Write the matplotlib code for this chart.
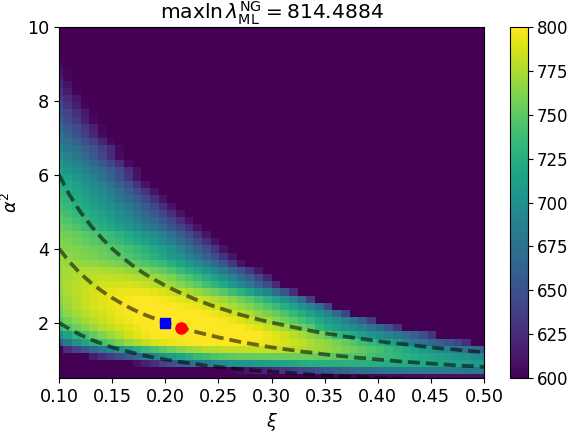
"""Likelihood map over xi and alpha^2 with the degeneracy curves on top."""
import numpy as np
import matplotlib
matplotlib.use('Agg')
import matplotlib.pyplot as plt

xi = np.linspace(0.1, 0.5, 50)
alpha2 = np.linspace(0.5, 10, 50)

# lnL, first row is the lowest alpha^2, rows stop at their last lit cell
rows = [
    [600]*30 + [601, 601, 602, 602, 602, 603, 603, 604, 604, 605, 605, 606, 606, 607, 607, 608, 608, 609, 609, 610],
    [600]*20 + [603, 607, 612, 616, 620, 625, 630, 635, 640, 645, 650, 655, 660, 664, 668, 672, 675, 678, 680, 682, 683, 684, 684, 684, 684, 683, 682, 681, 680, 678],
    [600]*9 + [608, 618, 628, 640, 650, 660, 668, 676, 684, 690, 695, 700, 703, 706, 709, 712, 715, 718, 720, 722, 724, 725, 726, 727, 727, 727, 727, 726, 725, 724, 723, 722, 721, 720, 719, 717, 715, 714, 712, 710, 708],
    [600]*4 + [615, 625, 635, 645, 655, 665, 680, 690, 700, 710, 718, 725, 733, 738, 743, 747, 750, 752, 753, 754, 754, 755, 755, 755, 755, 754, 753, 752, 750, 748, 746, 744, 741, 738, 735, 732, 728, 724, 720, 716, 712, 708, 704, 700, 696, 692],
    [600, 625, 640, 652, 665, 680, 692, 703, 714, 726, 735, 742, 750, 757, 763, 768, 772, 776, 778, 780, 781, 782, 782, 782, 782, 781, 780, 778, 776, 773, 770, 767, 763, 759, 755, 750, 745, 740, 734, 728, 722, 716, 710, 703, 696, 689, 682, 675, 668, 660],
    [655, 680, 700, 715, 728, 740, 750, 760, 768, 775, 781, 786, 790, 793, 796, 798, 800, 800, 801, 801, 800, 799, 798, 796, 794, 791, 788, 784, 780, 775, 770, 765, 759, 753, 746, 739, 732, 725, 717, 709, 690, 682, 675, 667, 658, 650, 640, 625],
    [695, 715, 730, 742, 752, 762, 770, 778, 785, 790, 795, 799, 802, 804, 806, 807, 808, 808, 808, 807, 806, 804, 802, 799, 795, 790, 785, 779, 773, 766, 758, 750, 735, 728, 720, 712, 704, 696, 688, 680, 670, 660, 648, 630],
    [730, 745, 755, 763, 770, 776, 782, 787, 791, 795, 798, 801, 803, 805, 806, 807, 807, 807, 806, 804, 802, 799, 795, 790, 784, 778, 771, 764, 756, 748, 730, 720, 712, 704, 695, 686, 676, 665, 650, 630],
    [745, 757, 765, 772, 778, 783, 788, 792, 796, 799, 802, 804, 805, 806, 806, 806, 805, 803, 801, 798, 794, 790, 785, 779, 772, 765, 757, 749, 740, 731, 720, 710, 700, 688, 675, 658, 635],
    [755, 765, 772, 778, 783, 787, 791, 795, 798, 800, 802, 803, 804, 804, 803, 802, 800, 797, 794, 790, 785, 780, 774, 767, 760, 752, 743, 734, 724, 713, 701, 688, 670, 640],
    [760, 769, 776, 781, 786, 790, 793, 796, 799, 800, 801, 801, 801, 800, 798, 796, 793, 789, 785, 780, 774, 768, 761, 754, 745, 736, 726, 715, 703, 690, 670, 640],
    [765, 772, 778, 783, 787, 790, 793, 796, 798, 799, 799, 799, 797, 795, 792, 789, 785, 781, 776, 770, 764, 756, 748, 738, 728, 716, 703, 688, 668, 635],
    [768, 774, 779, 783, 787, 790, 792, 793, 794, 794, 793, 791, 788, 784, 780, 775, 769, 762, 755, 747, 738, 728, 716, 703, 688, 672, 652, 625],
    [770, 775, 779, 782, 784, 786, 787, 787, 786, 785, 783, 779, 775, 770, 764, 757, 749, 740, 730, 719, 707, 694, 680, 664, 645, 622],
    [770, 774, 777, 779, 780, 781, 781, 780, 779, 777, 774, 770, 765, 759, 752, 744, 735, 725, 714, 702, 689, 675, 660, 642, 620],
    [770, 773, 775, 776, 776, 775, 774, 772, 769, 765, 761, 756, 750, 743, 735, 726, 716, 705, 693, 680, 665, 650, 632, 612],
    [770, 769, 768, 767, 766, 764, 761, 758, 754, 750, 745, 740, 735, 727, 718, 707, 696, 683, 669, 653, 632, 610],
    [768, 766, 764, 762, 759, 756, 753, 749, 745, 739, 733, 727, 719, 710, 700, 688, 676, 662, 646, 629, 610],
    [765, 763, 761, 758, 756, 753, 749, 745, 740, 734, 728, 720, 711, 701, 690, 677, 663, 647, 630, 610],
    [763, 759, 756, 752, 748, 744, 739, 734, 728, 721, 713, 705, 695, 684, 672, 659, 644, 628, 610],
    [760, 756, 753, 749, 745, 740, 735, 729, 722, 715, 706, 697, 686, 674, 660, 645, 629, 610],
    [755, 749, 744, 738, 732, 726, 719, 712, 704, 696, 686, 676, 665, 653, 640, 626, 610],
    [750, 744, 739, 733, 726, 720, 713, 705, 697, 688, 677, 666, 654, 641, 626, 610],
    [745, 739, 733, 727, 721, 714, 706, 698, 689, 679, 667, 655, 642, 626, 610],
    [740, 734, 728, 721, 714, 707, 699, 690, 680, 669, 656, 642, 627, 610],
    [735, 729, 722, 715, 708, 700, 691, 681, 670, 658, 644, 628, 610],
    [731, 724, 717, 710, 702, 693, 684, 672, 660, 645, 629, 610],
    [727, 720, 713, 705, 696, 686, 675, 662, 647, 630, 610],
    [720, 713, 705, 696, 687, 676, 663, 648, 630, 610],
    [712, 705, 697, 689, 680, 670, 658, 645, 628, 608],
    [704, 696, 688, 679, 668, 656, 642, 625, 606],
    [697, 688, 679, 668, 655, 640, 624, 606],
    [690, 681, 672, 661, 650, 637, 622, 604],
    [682, 672, 661, 649, 636, 620, 604],
    [675, 663, 650, 636, 621, 605],
    [667, 656, 645, 632, 618, 603],
    [659, 647, 633, 618, 604],
    [652, 640, 627, 614, 602],
    [644, 630, 616, 602],
    [637, 624, 612, 601],
    [629, 615, 602],
    [622, 610, 601],
    [615, 603],
    [608, 602],
    [603],
]

# dashed curves
xi_curve = [0.10, 0.11, 0.12, 0.13, 0.14, 0.15, 0.16, 0.17, 0.18, 0.19, 0.20, 0.21, 0.22, 0.23,
            0.24, 0.25, 0.26, 0.27, 0.28, 0.29, 0.30, 0.31, 0.32, 0.33, 0.34, 0.35, 0.36, 0.37,
            0.38, 0.39, 0.40, 0.41, 0.42, 0.43, 0.44, 0.45, 0.46, 0.47, 0.48, 0.49, 0.50]
upper = [6.00, 5.45, 5.00, 4.62, 4.29, 4.00, 3.75, 3.53, 3.33, 3.16, 3.00, 2.86, 2.73, 2.61,
         2.50, 2.40, 2.31, 2.22, 2.14, 2.07, 2.00, 1.94, 1.88, 1.82, 1.76, 1.71, 1.67, 1.62,
         1.58, 1.54, 1.50, 1.46, 1.43, 1.40, 1.36, 1.33, 1.30, 1.28, 1.25, 1.22, 1.20]
middle = [4.00, 3.64, 3.33, 3.08, 2.86, 2.67, 2.50, 2.35, 2.22, 2.11, 2.00, 1.90, 1.82, 1.74,
          1.67, 1.60, 1.54, 1.48, 1.43, 1.38, 1.33, 1.29, 1.25, 1.21, 1.18, 1.14, 1.11, 1.08,
          1.05, 1.03, 1.00, 0.98, 0.95, 0.93, 0.91, 0.89, 0.87, 0.85, 0.83, 0.82, 0.80]
lower = [2.00, 1.82, 1.67, 1.54, 1.43, 1.33, 1.25, 1.18, 1.11, 1.05, 1.00, 0.95, 0.91, 0.87,
         0.83, 0.80, 0.77, 0.74, 0.71, 0.69, 0.67, 0.65, 0.63, 0.61, 0.59, 0.57, 0.56, 0.54,
         0.53, 0.51, 0.50, 0.49, 0.48, 0.47, 0.45, 0.44, 0.43, 0.43, 0.42, 0.41, 0.40]

true_point = (0.2, 2.0)
best_point = (0.2145, 1.865)
max_lnl = '814.4884'

# fill the unlit cells and rows with the floor value
grid = np.full((len(alpha2), len(xi)), 600.0)
for i, row in enumerate(rows):
    grid[i, :len(row)] = row

plt.rcParams['font.size'] = 12.7
W, H = 568, 433
fig = plt.figure(figsize=(W / 100, H / 100), dpi=100)
ax = fig.add_axes([59 / W, 1 - 378 / H, 425 / W, 351 / H])
cax = fig.add_axes([510 / W, 1 - 378 / H, 17.5 / W, 351 / H])

mesh = ax.pcolormesh(xi, alpha2, grid, shading='nearest', cmap='viridis', vmin=600, vmax=800)
for curve in (upper, middle, lower):
    ax.plot(xi_curve, curve, color='k', ls=(0, (3.2, 1.6)), lw=2.7, alpha=0.55)
ax.plot(*true_point, 's', color='blue', ms=7)
ax.plot(*best_point, 'o', color='red', ms=8)

ax.set_xlim(0.1, 0.5)
ax.set_ylim(0.5, 10)
ax.set_xticks([0.10, 0.15, 0.20, 0.25, 0.30, 0.35, 0.40, 0.45, 0.50])
ax.set_xticklabels(['0.10', '0.15', '0.20', '0.25', '0.30', '0.35', '0.40', '0.45', '0.50'])
ax.set_yticks([2, 4, 6, 8, 10])
ax.set_xlabel(r'$\xi$')
ax.set_ylabel(r'$\alpha^2$')
ax.set_title(r'$\mathrm{max} \ln\lambda_{\mathrm{ML}}^{\mathrm{NG}} = $' + max_lnl, fontsize=14.6, pad=2.5)

cb = fig.colorbar(mesh, cax=cax)
cb.set_ticks(range(600, 801, 25))
cb.ax.tick_params(labelsize=12, pad=3)

fig.savefig('out.png', dpi=100)
